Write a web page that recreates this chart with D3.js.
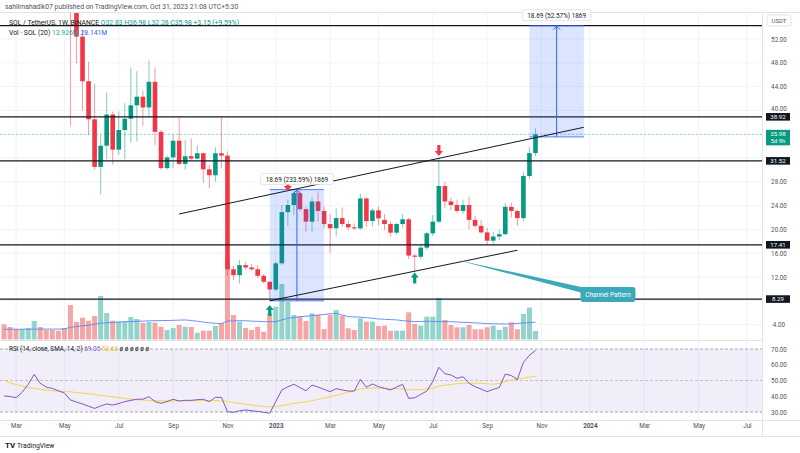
<!DOCTYPE html>
<html><head><meta charset="utf-8">
<script src="https://cdn.jsdelivr.net/npm/d3@7"></script>
<style>
html,body{margin:0;padding:0;background:#fff;}
svg{display:block;font-family:Roboto,"Liberation Sans",Arial,sans-serif;}
</style></head><body>
<svg id="c" width="800" height="453"></svg>
<script>
// ---------- DATA (weekly SOL/USDT, first week 2022-02-21, last week 2023-10-30) ----------
const firstWeek = new Date(2022, 1, 21);
const lastWeekEnd = new Date(2023, 10, 6);
const opens = [93,89,86,80,90,102,122,112,101,99,93,76.5,57.5,52.4,44.9,38.5,30.5,34.07,39.3,33.4,36.7,38.6,40.85,42.3,40.5,44.8,36.4,30.3,32.1,34.9,31.0,32.3,31.9,32.8,30.1,29.1,32.8,32.4,13.3,12.3,14.0,13.6,13.3,12.2,11.2,9.9,14.3,22.9,24.1,26.1,23.4,21.3,24.7,23.1,20.9,20.2,21.9,20.9,20.35,20.17,25.2,21.4,23.2,21.6,20.9,19.45,20.9,21.7,15.6,15.4,16.93,19.34,21.3,27.3,24.7,24.1,23.1,24.1,21.6,20.6,19.5,18.1,18.8,19.2,23.8,23.1,21.9,28.98,32.83];
const highs = [100,105,92,92,104,143,125,115,109,104,98,80,58.5,53.5,48.2,44.5,35.9,43.0,39.8,39.8,41.2,47.2,46.6,43.3,48.4,47.2,36.7,32.4,35.9,38.8,35.0,35.3,34.2,32.9,30.8,33.8,38.8,33.1,13.9,14.9,14.5,14.2,14.0,12.5,11.3,14.6,24.1,25.0,26.6,26.69,23.8,25.4,26.4,23.8,22.6,23.5,23.7,21.5,21.0,26.0,25.4,23.5,23.9,22.6,21.3,21.1,22.6,22.0,15.9,17.6,19.6,22.4,32.1,28.0,25.4,25.0,25.0,25.5,22.3,21.6,20.3,19.6,20.0,24.4,24.5,23.3,29.6,33.9,36.98];
const lows = [76,80,77,78,87,100,108,97,95,87,73,37.4,47.9,39.95,35.9,30.0,25.9,31.8,30.9,32.5,31.8,34.6,34.75,37.4,38.95,34.2,30.0,30.0,30.3,30.8,30.0,31.7,31.8,27.85,26.9,28.0,30.3,12.3,11.5,10.9,13.2,13.0,11.8,10.9,8.0,9.6,14.0,20.5,22.4,23.0,19.6,19.6,21.3,20.2,16.0,18.8,20.4,19.9,19.9,19.9,20.4,20.5,20.7,19.9,18.8,19.1,20.3,15.0,12.9,15.0,16.5,18.9,21.0,23.6,23.2,22.8,22.6,20.0,20.2,19.2,17.4,17.3,18.2,19.0,22.0,20.6,21.4,28.5,32.28];
const closes = [89,86,80,90,102,122,112,101,99,93,76.5,57.5,52.4,44.9,38.5,30.5,34.07,39.3,33.4,36.7,38.6,40.85,42.3,40.5,44.8,36.4,30.3,32.1,34.9,31.0,32.3,31.9,32.8,30.1,29.1,32.8,32.4,13.3,12.3,14.0,13.6,13.3,12.2,11.2,9.9,14.3,22.9,24.1,26.1,23.4,21.3,24.7,23.1,20.9,20.2,21.9,20.9,20.35,20.17,25.2,21.4,23.2,21.85,20.9,19.45,20.9,21.7,15.6,15.4,16.93,19.34,21.3,27.3,24.7,24.1,23.1,24.1,21.6,20.6,19.5,18.1,18.8,19.2,23.8,23.1,21.9,28.98,32.83,35.98];
const volumes = [24.8,20.4,17.2,17.2,18.8,30.2,20.4,15.5,15.5,14.4,18.8,56.4,28.6,35.6,30.7,38.4,71.1,43.3,30.7,29.1,29.1,36.8,33.5,27.0,28.6,27.5,20.9,15.5,18.8,23.7,20.9,20.4,11.1,14.4,14.4,22.1,27.0,133,40.0,29.1,18.8,15.5,20.9,12.7,43.3,53.6,90.7,61.8,40.0,37.3,30.2,42.8,40.0,17.2,40.0,48.2,38.9,18.3,15.5,34.6,29.1,29.1,22.1,22.5,14.4,14.4,14.4,44.4,25.3,22.5,37.3,37.3,67.8,31.9,23.7,19.9,19.9,23.7,16.7,16.7,19.9,22.5,15.5,20.9,28.1,16.7,41.7,52.0,13.926];
const volumeMA = [16.7,16.7,16.8,16.8,16.8,16.9,16.9,17.0,17.0,17.0,17.2,19.9,21.0,22.3,23.4,24.8,26.5,27.3,27.9,28.4,29.1,29.4,29.7,30.0,30.4,30.7,30.8,31.0,31.3,31.6,31.9,31.0,29.8,28.5,27.2,26.5,25.9,30.2,30.5,30.7,30.5,30.0,29.6,29.1,29.1,29.1,32.0,34.6,35.8,37.3,38.0,38.8,40.0,40.8,42.0,42.8,40.0,37.3,36.9,36.5,35.5,34.5,33.5,33.0,32.5,32.0,30.7,30.0,29.1,29.4,29.8,29.6,29.4,29.1,29.0,28.5,28.0,27.6,27.2,26.5,26.0,25.7,25.5,25.3,25.5,26.2,27.0,27.6,28.141];
const rsi = [40.2,39.8,39.1,42.5,47.5,53.9,48.2,45.8,45.0,43.5,42.0,37.6,36.3,35.1,33.7,32.3,33.8,35.1,34.4,35.4,36.6,37.4,38.1,38.1,39.7,36.6,35.5,36.6,38.1,37.0,37.4,37.4,37.8,38.1,36.6,39.3,39.3,30.2,29.8,30.8,31.3,30.8,30.4,29.8,29.2,36.6,44.0,46.0,47.6,45.5,43.5,47.1,45.8,44.4,42.9,44.8,44.0,43.3,43.3,50.7,45.7,47.8,46.1,45.0,44.0,45.8,47.6,38.7,39.0,41.2,43.3,49.3,58.4,54.3,53.5,51.4,52.4,48.2,46.1,44.5,42.9,44.4,45.5,54.1,53.1,50.7,61.5,66.0,69.05];
const rsiMA = [50.3,48.5,47.4,46.5,45.6,44.9,44.4,43.9,43.5,43.2,43.0,42.8,42.4,42.0,41.6,41.1,40.6,40.1,39.6,39.1,38.6,38.2,37.8,37.6,37.4,37.2,37.1,37.0,37.0,37.0,37.1,37.1,37.2,37.2,37.2,37.2,37.1,36.6,36.0,35.5,35.0,34.5,34.0,33.6,33.3,33.4,34.0,34.8,35.5,36.0,36.4,37.2,38.0,38.8,39.7,40.6,41.6,42.6,43.6,44.6,45.0,45.3,45.3,45.2,45.0,44.8,44.6,44.2,44.0,44.2,44.6,45.0,46.5,47.0,47.5,47.9,48.2,48.3,48.3,48.2,47.9,47.6,48.2,49.2,50.2,50.8,51.5,52.1,52.63];

const gridPriceTicks = [4,8,12,16,20,24,28,32,36,40,44,48,52];
const labelPriceTicks = [4,12,16,20,24,28,40,44,48,52];
const rsiTicks = [30,40,50,60,70];
const timeTickDates = ["2022-03-07","2022-05-02","2022-07-04","2022-09-05","2022-11-07","2023-01-02","2023-03-06","2023-05-01","2023-07-03","2023-09-04","2023-11-06","2024-01-01","2024-03-04","2024-05-06","2024-07-01"];
const timeTickLabels = ["Mar","May","Jul","Sep","Nov","2023","Mar","May","Jul","Sep","Nov","2024","Mar","May","Jul"];

const levels = [38.92, 31.52, 17.41, 8.29];
const targetLevel = 54.24;
const lastPrice = 35.98;
const channelUpper = [["2022-09-12", 22.59], ["2023-12-25", 37.16]];
const channelLower = [["2022-12-26", 8.0], ["2023-10-09", 16.5]];
const measures = [
  {from:"2022-12-26", to:"2023-02-27", lo:8.0, hi:26.69, label:"18.69 (233.59%) 1869"},
  {from:"2023-10-23", to:"2023-12-25", lo:35.55, hi:54.24, label:"18.69 (52.57%) 1869"}
];
const arrows = [
  {date:"2023-01-16", price:26.45, dir:"down"},
  {date:"2023-07-10", price:32.34, dir:"down"},
  {date:"2022-12-26", price:7.3, dir:"up"},
  {date:"2023-06-12", price:12.76, dir:"up"}
];
const callout = {text:"Channel Pattern", tip:["2023-07-31", 14.86], box:["2024-01-22", 9.06]};

// ---------- SETUP ----------
const svg = d3.select("#c");
const parse = d3.timeParse("%Y-%m-%d");
const weeks = d3.timeMonday.range(firstWeek, lastWeekEnd);
const data = weeks.map((d,i)=>({d, o:opens[i], h:highs[i], l:lows[i], c:closes[i], v:volumes[i], vma:volumeMA[i], r:rsi[i], rm:rsiMA[i]}));

const PR = 762;
const MT = 13, MB = 340;
const RT = 341, RB = 420;
const x = d3.scaleTime().domain([weeks[0], weeks[weeks.length-1]]).range([4, 535.5]);
const y = d3.scaleLinear().domain([4, 52]).range([324.6, 39]);
const yV = d3.scaleLinear().domain([0, 133]).range([339.5, 258]);
const yR = d3.scaleLinear().domain([30, 70]).range([412, 349]);
const RED = "#f23645", GREEN = "#089981";

const defs = svg.append("defs");
defs.append("clipPath").attr("id","mainClip").append("rect").attr("x",0).attr("y",MT).attr("width",PR).attr("height",MB-MT);
defs.append("clipPath").attr("id","rsiClip").append("rect").attr("x",0).attr("y",RT).attr("width",PR).attr("height",RB-RT);

// header
svg.append("text").attr("x",5).attr("y",9).attr("font-size",6.8).attr("fill","#50535e")
  .text("sahilmahadik07 published on TradingView.com, Oct 31, 2023 21:08 UTC+5:30");
svg.append("line").attr("x1",0).attr("x2",800).attr("y1",MT-0.5).attr("y2",MT-0.5).attr("stroke","#e0e3eb");

// grid
const tDates = timeTickDates.map(parse);
const grid = svg.append("g");
grid.selectAll("line.gv").data(tDates).join("line").attr("class","gv")
  .attr("x1",d=>x(d)).attr("x2",d=>x(d)).attr("y1",MT).attr("y2",RB).attr("stroke","#f0f3fa");
grid.selectAll("line.gh").data(gridPriceTicks).join("line").attr("class","gh")
  .attr("x1",0).attr("x2",PR).attr("y1",d=>y(d)).attr("y2",d=>y(d)).attr("stroke","#f0f3fa");

// main pane
const main = svg.append("g").attr("clip-path","url(#mainClip)");
main.selectAll("rect.vol").data(data).join("rect").attr("class","vol")
  .attr("x",d=>x(d.d)-2.5).attr("width",5)
  .attr("y",d=>yV(d.v)).attr("height",d=>yV(0)-yV(d.v))
  .attr("fill",d=>d.c>=d.o?"#92d3cb":"#f6a5a7");
main.append("path").datum(data).attr("fill","none").attr("stroke","#5b84f5").attr("stroke-width",0.9)
  .attr("d",d3.line().x(d=>x(d.d)).y(d=>yV(d.vma)));

main.selectAll("line.wick").data(data).join("line").attr("class","wick")
  .attr("x1",d=>x(d.d)).attr("x2",d=>x(d.d)).attr("y1",d=>y(d.h)).attr("y2",d=>y(d.l))
  .attr("stroke",d=>d.c>=d.o?GREEN:RED).attr("stroke-opacity",0.5).attr("stroke-width",1);
main.selectAll("rect.body").data(data).join("rect").attr("class","body")
  .attr("x",d=>x(d.d)-2.3).attr("width",4.6)
  .attr("y",d=>y(Math.max(d.o,d.c))).attr("height",d=>Math.max(1,Math.abs(y(d.o)-y(d.c))))
  .attr("fill",d=>d.c>=d.o?GREEN:RED);

main.selectAll("line.lvl").data(levels.concat([targetLevel])).join("line").attr("class","lvl")
  .attr("x1",0).attr("x2",PR).attr("y1",d=>y(d)).attr("y2",d=>y(d)).attr("stroke","#131722").attr("stroke-width",1.2);
main.append("line").attr("x1",0).attr("x2",PR).attr("y1",y(lastPrice)).attr("y2",y(lastPrice))
  .attr("stroke",GREEN).attr("stroke-opacity",0.5).attr("stroke-dasharray","2,2").attr("stroke-width",0.8);

measures.forEach(m=>{
  const x0=x(parse(m.from)), x1=x(parse(m.to)), y0=y(m.hi), y1=y(m.lo), xm=(x0+x1)/2;
  main.append("rect").attr("x",x0).attr("y",y0).attr("width",x1-x0).attr("height",y1-y0).attr("fill","#2962ff").attr("fill-opacity",0.17);
  main.append("line").attr("x1",x0).attr("x2",x1).attr("y1",y0).attr("y2",y0).attr("stroke","#2962ff").attr("stroke-width",1).attr("stroke-opacity",0.8);
  main.append("line").attr("x1",x0).attr("x2",x1).attr("y1",y1).attr("y2",y1).attr("stroke","#2962ff").attr("stroke-width",1).attr("stroke-opacity",0.8);
  main.append("line").attr("x1",xm).attr("x2",xm).attr("y1",y1).attr("y2",y0).attr("stroke","#2962ff").attr("stroke-width",1);
  main.append("path").attr("d",`M${xm-3.5},${y0+4}L${xm},${y0+0.5}L${xm+3.5},${y0+4}`).attr("fill","none").attr("stroke","#2962ff").attr("stroke-width",1);
});

[channelUpper, channelLower].forEach(c=>{
  main.append("line").attr("x1",x(parse(c[0][0]))).attr("y1",y(c[0][1])).attr("x2",x(parse(c[1][0]))).attr("y2",y(c[1][1]))
    .attr("stroke","#131722").attr("stroke-width",1);
});

arrows.forEach(a=>{
  const cx=x(parse(a.date)), ty=y(a.price), col=a.dir==="down"?RED:GREEN, s=a.dir==="down"?-1:1;
  const p = [[cx,ty],[cx+4,ty+s*5],[cx+1.6,ty+s*5],[cx+1.6,ty+s*11],[cx-1.6,ty+s*11],[cx-1.6,ty+s*5],[cx-4,ty+s*5]];
  main.append("path").attr("d","M"+p.join("L")+"Z").attr("fill",col);
});

measures.forEach(m=>{
  const x0=x(parse(m.from)), x1=x(parse(m.to)), xm=(x0+x1)/2, y0=y(m.hi);
  const g = svg.append("g");
  const t = g.append("text").attr("x",xm).attr("y",y0-8).attr("text-anchor","middle").attr("font-size",6.4).attr("fill","#131722").text(m.label);
  const w = t.node().getComputedTextLength()+10;
  g.insert("rect","text").attr("x",xm-w/2).attr("y",y0-16).attr("width",w).attr("height",11).attr("rx",2)
    .attr("fill","#fff").attr("stroke","#d1d4dc").attr("stroke-width",0.6);
});

{
  const tx=x(parse(callout.tip[0])), ty=y(callout.tip[1]);
  const bx=x(parse(callout.box[0])), by=y(callout.box[1]);
  const bw=55, bh=15;
  main.append("path").attr("d",`M${tx},${ty}L${bx-bw/2+3},${by-bh/2+0.5}L${bx-bw/2+8},${by}Z`).attr("fill","#3aa9b9");
  svg.append("rect").attr("x",bx-bw/2).attr("y",by-bh/2).attr("width",bw).attr("height",bh).attr("rx",3).attr("fill","#3aa9b9");
  svg.append("text").attr("x",bx).attr("y",by+2.3).attr("text-anchor","middle").attr("font-size",6.4).attr("fill","#fff").text(callout.text);
}

const leg = svg.append("text").attr("x",9).attr("y",25).attr("font-size",6.8);
leg.append("tspan").attr("fill","#131722").text("SOL / TetherUS, 1W, BINANCE  ");
leg.append("tspan").attr("fill",GREEN).text("O32.83  H36.98  L32.28  C35.98  +3.15 (+9.59%)");
const leg2 = svg.append("text").attr("x",9).attr("y",35).attr("font-size",6.8);
leg2.append("tspan").attr("fill","#131722").text("Vol · SOL (20)  ");
leg2.append("tspan").attr("fill","#26a69a").text("13.926M  ");
leg2.append("tspan").attr("fill","#2962ff").text("28.141M");

// rsi pane
svg.append("line").attr("x1",0).attr("x2",PR).attr("y1",340.5).attr("y2",340.5).attr("stroke","#e0e3eb");
const rp = svg.append("g").attr("clip-path","url(#rsiClip)");
rp.append("rect").attr("x",0).attr("width",PR).attr("y",yR(70)).attr("height",yR(30)-yR(70)).attr("fill","#7e57c2").attr("fill-opacity",0.1);
rp.selectAll("line.rl").data([70,50,30]).join("line").attr("class","rl")
  .attr("x1",0).attr("x2",PR).attr("y1",d=>yR(d)).attr("y2",d=>yR(d))
  .attr("stroke","#787b86").attr("stroke-opacity",d=>d===50?0.5:0.8).attr("stroke-dasharray","3,2").attr("stroke-width",0.8);
rp.append("path").datum(data).attr("fill","none").attr("stroke","#f5d547").attr("stroke-width",1)
  .attr("d",d3.line().x(d=>x(d.d)).y(d=>yR(d.rm)));
rp.append("path").datum(data).attr("fill","none").attr("stroke","#7e57c2").attr("stroke-width",1)
  .attr("d",d3.line().x(d=>x(d.d)).y(d=>yR(d.r)));
const rl = svg.append("text").attr("x",9).attr("y",351).attr("font-size",6.4);
rl.append("tspan").attr("fill","#131722").text("RSI (14, close, SMA, 14, 2)  ");
rl.append("tspan").attr("fill","#7e57c2").text("69.05  ");
rl.append("tspan").attr("fill","#e6c229").text("52.63  ");
rl.append("tspan").attr("fill","#131722").text("ø  ø  ø  ø  ø  ø");

// right axis
svg.append("rect").attr("x",PR).attr("y",MT).attr("width",800-PR).attr("height",RB-MT).attr("fill","#fff");
svg.append("line").attr("x1",PR+0.5).attr("x2",PR+0.5).attr("y1",MT).attr("y2",436).attr("stroke","#e0e3eb");
const ay = svg.append("g").attr("transform",`translate(779,0)`)
  .call(d3.axisRight(y).tickValues(labelPriceTicks).tickFormat(d3.format(".2f")).tickSize(0).tickPadding(0));
ay.select(".domain").remove();
ay.selectAll("text").attr("text-anchor","middle").attr("font-size",6.3).attr("fill","#50535e").attr("font-family","Roboto,Arial,sans-serif")
  .attr("dy",(d)=>d===40?"0.05em":"0.32em");
const ar = svg.append("g").attr("transform",`translate(779,0)`)
  .call(d3.axisRight(yR).tickValues(rsiTicks).tickFormat(d3.format(".2f")).tickSize(0).tickPadding(0));
ar.select(".domain").remove();
ar.selectAll("text").attr("text-anchor","middle").attr("font-size",6.3).attr("fill","#50535e").attr("font-family","Roboto,Arial,sans-serif");

svg.append("rect").attr("x",767).attr("y",15).attr("width",24).attr("height",11).attr("rx",2).attr("fill","#fff").attr("stroke","#e0e3eb");
svg.append("text").attr("x",779).attr("y",22.8).attr("text-anchor","middle").attr("font-size",6).attr("fill","#50535e").text("USDT");

const lg = svg.selectAll("g.ll").data(levels).join("g").attr("class","ll");
lg.append("rect").attr("x",766).attr("y",d=>y(d)-3.8).attr("width",24).attr("height",7.6).attr("fill","#131722");
lg.append("text").attr("x",778).attr("y",d=>y(d)+2.2).attr("text-anchor","middle").attr("font-size",6.1).attr("fill","#fff").text(d=>d3.format(".2f")(d));
svg.append("rect").attr("x",766).attr("y",y(lastPrice)-4.5).attr("width",24).attr("height",15.5).attr("fill",GREEN);
svg.append("text").attr("x",778).attr("y",y(lastPrice)+2).attr("text-anchor","middle").attr("font-size",6.2).attr("fill","#fff").text(d3.format(".2f")(lastPrice));
svg.append("text").attr("x",778).attr("y",y(lastPrice)+9).attr("text-anchor","middle").attr("font-size",5.8).attr("fill","#fff").text("5d 9h");

// bottom axis
svg.append("line").attr("x1",0).attr("x2",800).attr("y1",RB+0.5).attr("y2",RB+0.5).attr("stroke","#e0e3eb");
const ax = svg.append("g").attr("transform",`translate(0,${RB+4})`)
  .call(d3.axisBottom(x).tickValues(tDates).tickFormat((d,i)=>timeTickLabels[i]).tickSize(0).tickPadding(0));
ax.select(".domain").remove();
ax.selectAll("text").attr("font-size",6.3).attr("fill","#50535e").attr("font-family","Roboto,Arial,sans-serif")
  .attr("font-weight",(d,i)=>/^\d/.test(timeTickLabels[i])?"bold":"normal");
svg.append("line").attr("x1",0).attr("x2",800).attr("y1",436.5).attr("y2",436.5).attr("stroke","#e0e3eb");

svg.append("text").attr("x",5).attr("y",448).attr("font-size",8).attr("font-weight","bold").attr("fill","#131722").text("TV");
svg.append("text").attr("x",17).attr("y",448).attr("font-size",6.8).attr("fill","#131722").text("TradingView");
</script>
</body></html>
